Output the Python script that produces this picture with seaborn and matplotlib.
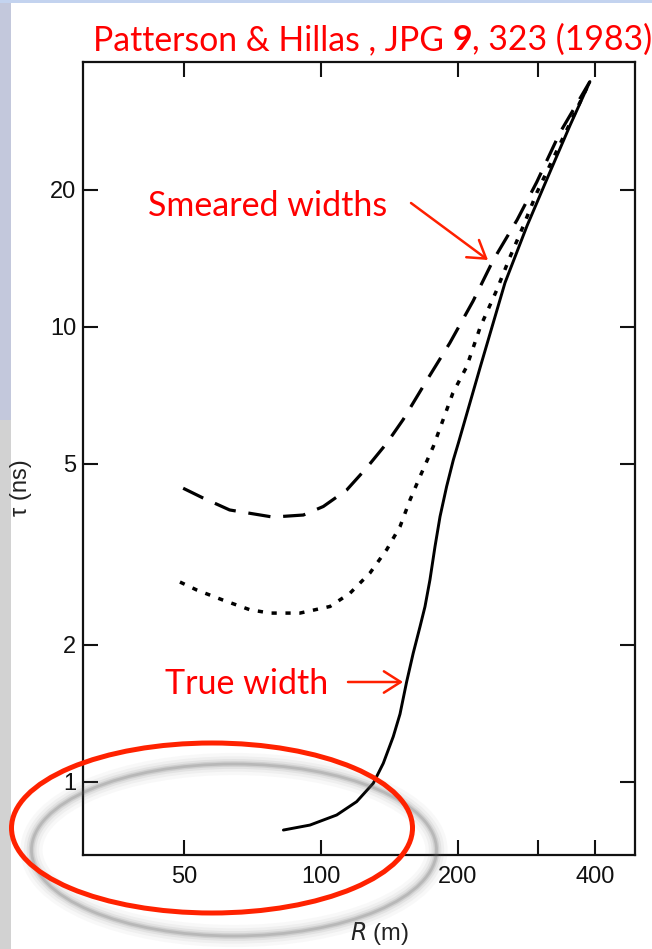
import matplotlib
matplotlib.use("Agg")
import matplotlib.pyplot as plt
import seaborn as sns
import pandas as pd
from matplotlib.patches import Ellipse, Rectangle

# ---- data ----
R_true = [82.7, 94.6, 108.3, 119.8, 130.3, 137.1, 144.2, 149.2, 154.3, 159.5, 165.1, 169.3,
          173.6, 178.1, 182.7, 188.9, 195.4, 200.4, 224, 253.8, 283.7, 318.7, 352.6, 390]
tau_true = [0.784, 0.804, 0.846, 0.905, 0.993, 1.099, 1.258, 1.41, 1.66, 1.918, 2.194, 2.428,
            2.78, 3.29, 3.83, 4.46, 5.10, 5.55, 8.17, 12.5, 16.67, 21.9, 27.7, 34.6]

R_dash = [49.8, 55, 63, 78.4, 91.5, 101.2, 113.9, 126, 139.5, 151.5, 171, 192, 216, 239, 270,
          298, 335, 390]
tau_dash = [4.42, 4.21, 3.96, 3.82, 3.86, 4.03, 4.38, 4.90, 5.55, 6.25, 7.64, 9.22, 11.4, 14.0,
            17.2, 20.8, 26.7, 34.6]

R_dot = [49, 53.4, 60.9, 69.8, 77.3, 89.9, 104.7, 115.9, 128.2, 139.5, 149.2, 157, 165.1,
         176.6, 195, 209, 224, 243, 260, 278, 298, 390]
tau_dot = [2.75, 2.64, 2.51, 2.39, 2.35, 2.35, 2.43, 2.60, 2.88, 3.24, 3.64, 4.17, 4.69,
           5.46, 7.16, 8.17, 10.0, 12.0, 14.2, 16.6, 19.7, 34.6]

x_ticks = [50, 100, 200, 300, 400]
x_ticklabels = ["50", "100", "200", "", "400"]
y_ticks = [1, 2, 5, 10, 20]
y_ticklabels = ["1", "2", "5", "10", "20"]

title_parts = ["Patterson & Hillas , JPG ", "9", ", 323 (1983)"]
label_smeared = "Smeared widths"
label_true = "True width"

# ---- style ----
sns.set_style("ticks")
plt.rcParams["font.family"] = ["Liberation Sans Narrow", "Liberation Sans", "DejaVu Sans"]

W, H = 652, 949
fig = plt.figure(figsize=(W / 100, H / 100), dpi=100)
fig.patch.set_facecolor("white")

def fx(x):
    return x / W

def fy(y):
    return 1 - y / H

# slide background strip on the left / top
fig.add_artist(Rectangle((0, fy(420)), fx(11), 420 / H, transform=fig.transFigure,
                         facecolor="#c3c8dc", edgecolor="none", zorder=0))
fig.add_artist(Rectangle((0, 0), fx(11), fy(420), transform=fig.transFigure,
                         facecolor="#d2d2d2", edgecolor="none", zorder=0))
fig.add_artist(Rectangle((0, fy(3)), 1, 3 / H, transform=fig.transFigure,
                         facecolor="#c3d3ef", edgecolor="none", zorder=0))

ax = fig.add_axes([fx(83), fy(855), (635 - 83) / W, (855 - 62) / H])
ax.set_facecolor("white")

df_true = pd.DataFrame({"R": R_true, "tau": tau_true})
df_dash = pd.DataFrame({"R": R_dash, "tau": tau_dash})
df_dot = pd.DataFrame({"R": R_dot, "tau": tau_dot})

sns.lineplot(data=df_true, x="R", y="tau", ax=ax, color="black", lw=2.1,
             sort=False, estimator=None)
sns.lineplot(data=df_dash, x="R", y="tau", ax=ax, color="black", lw=2.3,
             linestyle=(0, (7, 4)), sort=False, estimator=None)
sns.lineplot(data=df_dot, x="R", y="tau", ax=ax, color="black", lw=2.5,
             linestyle=(0, (1.5, 2.5)), sort=False, estimator=None)

ax.set_xscale("log")
ax.set_yscale("log")
ax.set_xlim(30.0, 490)
ax.set_ylim(0.691, 38.2)
ax.minorticks_off()
ax.set_xticks(x_ticks)
ax.set_xticklabels(x_ticklabels)
ax.set_yticks(y_ticks)
ax.set_yticklabels(y_ticklabels)
ax.tick_params(direction="in", length=11, width=1.5, top=True, right=True,
               labelsize=17, pad=5, colors="#111111")
ax.tick_params(axis="x", pad=8)
for s in ax.spines.values():
    s.set_linewidth(1.6)
    s.set_color("#111111")

ax.set_xlabel("$\\mathit{R}$ (m)", fontsize=17, color="#222222")
ax.xaxis.set_label_coords((380 - 83) / (635 - 83), (855 - 920) / (855 - 62))
ax.set_ylabel("τ (ns)", fontsize=17, color="#222222")
ax.yaxis.set_label_coords((32 - 83) / (635 - 83), (855 - 488) / (855 - 62))

# ---- red annotations ----
red = "#ff0000"
tfont = ["Lato", "DejaVu Sans"]
fs = 24.3

fig.canvas.draw()
renderer = fig.canvas.get_renderer()
x0 = 93
for i, part in enumerate(title_parts):
    t = fig.text(fx(x0), fy(50), part, color=red, fontsize=fs, family=tfont,
                 fontweight="bold" if i == 1 else "normal", va="baseline", ha="left")
    bb = t.get_window_extent(renderer=renderer)
    x0 += bb.width

fig.text(fx(148), fy(216), label_smeared, color=red, fontsize=24.5, family=tfont,
         va="baseline", ha="left")
fig.text(fx(165), fy(694), label_true, color=red, fontsize=24.5, family=tfont,
         va="baseline", ha="left")

arrow_kw = dict(arrowstyle="->,head_length=0.55,head_width=0.35", color="#ff2000",
                lw=1.8, mutation_scale=22, shrinkA=0, shrinkB=0)
ax.annotate("", xy=(fx(488), fy(260)), xytext=(fx(411), fy(203)),
            xycoords="figure fraction", textcoords="figure fraction", arrowprops=arrow_kw)
ax.annotate("", xy=(fx(403), fy(682)), xytext=(fx(348), fy(682)),
            xycoords="figure fraction", textcoords="figure fraction", arrowprops=arrow_kw)

# gray blurred shadow ellipse
for lw, a in [(16, 0.04), (11, 0.06), (7, 0.09), (4, 0.14), (2, 0.2)]:
    fig.add_artist(Ellipse((fx(234), fy(850)), 405 / W, 172 / H, transform=fig.transFigure,
                           fill=False, edgecolor="#606060", lw=lw, alpha=a, zorder=5))
# red ellipse
fig.add_artist(Ellipse((fx(212), fy(828)), 401 / W, 170 / H, transform=fig.transFigure,
                       fill=False, edgecolor="#ff2200", lw=3.6, zorder=6))

fig.savefig("out.png", dpi=100)
